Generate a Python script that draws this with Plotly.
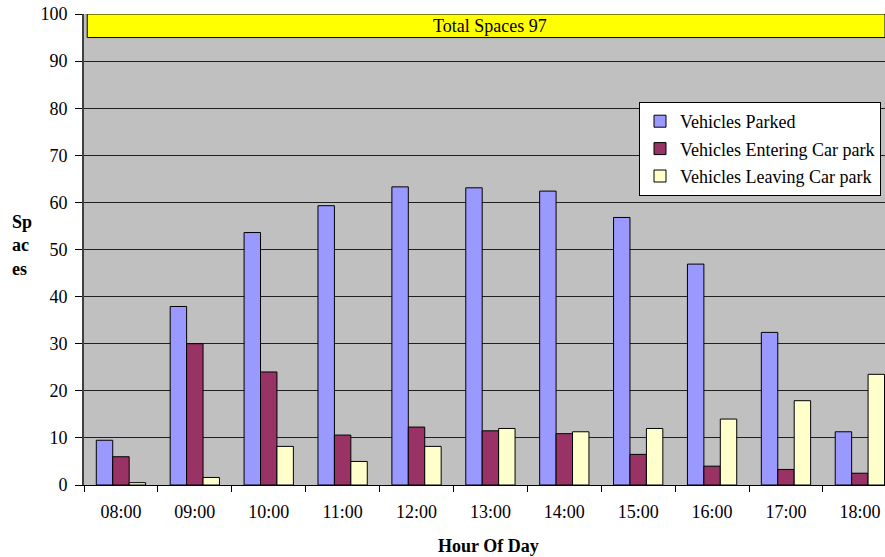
import plotly.graph_objects as go

# Hourly car park occupancy
hours = ["08:00", "09:00", "10:00", "11:00", "12:00", "13:00",
         "14:00", "15:00", "16:00", "17:00", "18:00"]
parked = [9.5, 37.9, 53.6, 59.3, 63.3, 63.1, 62.4, 56.8, 46.9, 32.4, 11.3]
entering = [6.0, 30.0, 24.0, 10.6, 12.3, 11.5, 10.9, 6.5, 4.0, 3.3, 2.5]
leaving = [0.5, 1.6, 8.2, 5.0, 8.2, 12.0, 11.3, 12.0, 14.0, 17.9, 23.5]
y_ticks = [0, 10, 20, 30, 40, 50, 60, 70, 80, 90, 100]
capacity_label = "Total Spaces 97"

FONT = "'Times New Roman', 'Liberation Serif', serif"
FS = 18

series = [
    ("Vehicles Parked", parked, "#9999FF"),
    ("Vehicles Entering Car park", entering, "#993366"),
    ("Vehicles Leaving Car park", leaving, "#FFFFCC"),
]

fig = go.Figure()
for i, (name, vals, color) in enumerate(series):
    fig.add_trace(go.Bar(
        x=hours, y=vals, name=name, legendgroup=f"g{i}",
        marker=dict(color=color, line=dict(color="#000000", width=1)),
    ))

W, H = 885, 557
ml, mr, mt, mb = 84, 0, 14, 72
PH = H - mt - mb
PW = W - ml - mr

fig.update_layout(
    width=W, height=H,
    margin=dict(l=ml, r=mr, t=mt, b=mb, autoexpand=False),
    paper_bgcolor="white",
    plot_bgcolor="#C0C0C0",
    barmode="group",
    bargap=0.333,
    bargroupgap=0,
    font=dict(family=FONT, size=FS, color="black"),
    showlegend=True,
    legend=dict(
        x=(639 - ml) / PW, y=(H - mb - 102) / PH,
        xanchor="left", yanchor="top",
        bgcolor="white", bordercolor="black", borderwidth=1,
        font=dict(family=FONT, size=FS, color="black"),
        traceorder="grouped", tracegroupgap=1,
    ),
    xaxis=dict(
        type="category",
        range=[-0.5, 10.34],
        tickson="boundaries",
        ticks="outside", ticklen=6, tickcolor="black",
        showline=True, linecolor="black", linewidth=1,
        showgrid=False, zeroline=False,
        tickfont=dict(family=FONT, size=FS, color="black"),
        ticklabelstandoff=10,
    ),
    yaxis=dict(
        range=[0, 100],
        tickvals=y_ticks,
        ticks="outside", ticklen=7, tickcolor="black",
        showline=True, linecolor="#404040", linewidth=2,
        showgrid=True, gridcolor="#202020", gridwidth=1,
        zeroline=False,
        tickfont=dict(family=FONT, size=FS, color="black"),
        ticklabelstandoff=4,
    ),
)

# Capacity band along the top of the plot
fig.add_shape(
    type="rect", xref="paper", yref="y",
    x0=0.004, x1=1.0, y0=95, y1=100,
    fillcolor="#FFFF00", line=dict(color="black", width=1), layer="above",
)
fig.add_annotation(
    x=5, y=97.5, xref="x", yref="y", text=capacity_label, showarrow=False,
    xanchor="center", yanchor="middle",
    font=dict(family=FONT, size=FS, color="black"),
)

# Axis titles
fig.add_annotation(
    x=(488 - ml) / PW, y=-(546 - (H - mb)) / PH,
    xref="paper", yref="paper", text="<b>Hour Of Day</b>", showarrow=False,
    xanchor="center", yanchor="middle",
    font=dict(family=FONT, size=FS, color="black"),
)
fig.add_annotation(
    x=(22 - ml) / PW, y=(H - mb - 245) / PH,
    xref="paper", yref="paper", text="<b>Sp<br>ac<br>es</b>", showarrow=False,
    xanchor="center", yanchor="middle", align="left",
    font=dict(family=FONT, size=FS, color="black"),
)

fig.write_html("out.html")
